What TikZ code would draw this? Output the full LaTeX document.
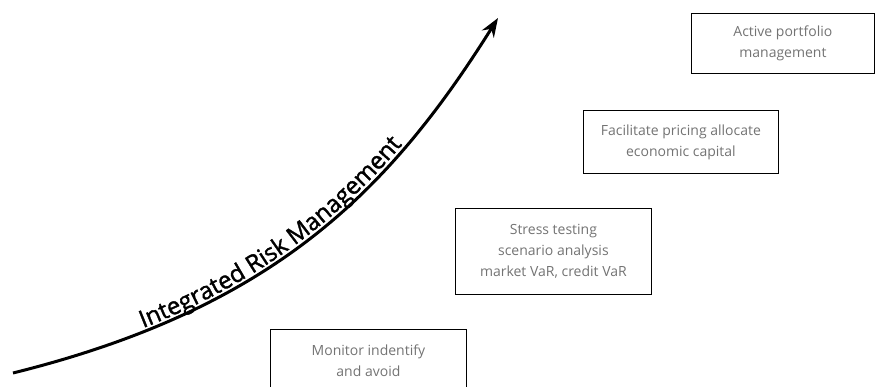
\documentclass[tikz,border=0pt]{standalone}
\usepackage{fontspec}
\setmainfont{Open Sans}
\newfontfamily\titlefont[FakeBold=1.5]{Open Sans}
\usetikzlibrary{arrows.meta,decorations.text}
\begin{document}
\begin{tikzpicture}[x=1pt,y=-1pt,
  stage/.style={draw=black, line width=0.8pt, text=black!55,
    font=\fontsize{14}{21}\selectfont, align=center, inner sep=0pt,
    anchor=north west}]
\useasboundingbox (0,0) rectangle (877,387);
\node[stage, minimum width=183pt, minimum height=60pt] (b1) at (691,13) {Active portfolio\\management};
\node[stage, minimum width=195pt, minimum height=63pt] (b2) at (583,110) {Facilitate pricing allocate\\economic capital};
\node[stage, minimum width=196pt, minimum height=86pt] (b3) at (455,208) {Stress testing\\scenario analysis\\market VaR, credit VaR};
\node[stage, minimum width=196pt, minimum height=63pt] (b4) at (270,329) {Monitor indentify\\and avoid};
\coordinate (s) at (13,373);
\coordinate (e) at (498,18);
\draw[line width=3pt, -{Stealth[length=19pt,width=14pt]},
  postaction={decorate, decoration={text along path,
    text={|\titlefont\fontsize{24}{24}\selectfont|Integrated Risk Management},
    raise=3.5pt, text align={left indent=138pt}}}]
  (s) .. controls (275,308) and (390,190) .. (e);
\end{tikzpicture}
\end{document}
